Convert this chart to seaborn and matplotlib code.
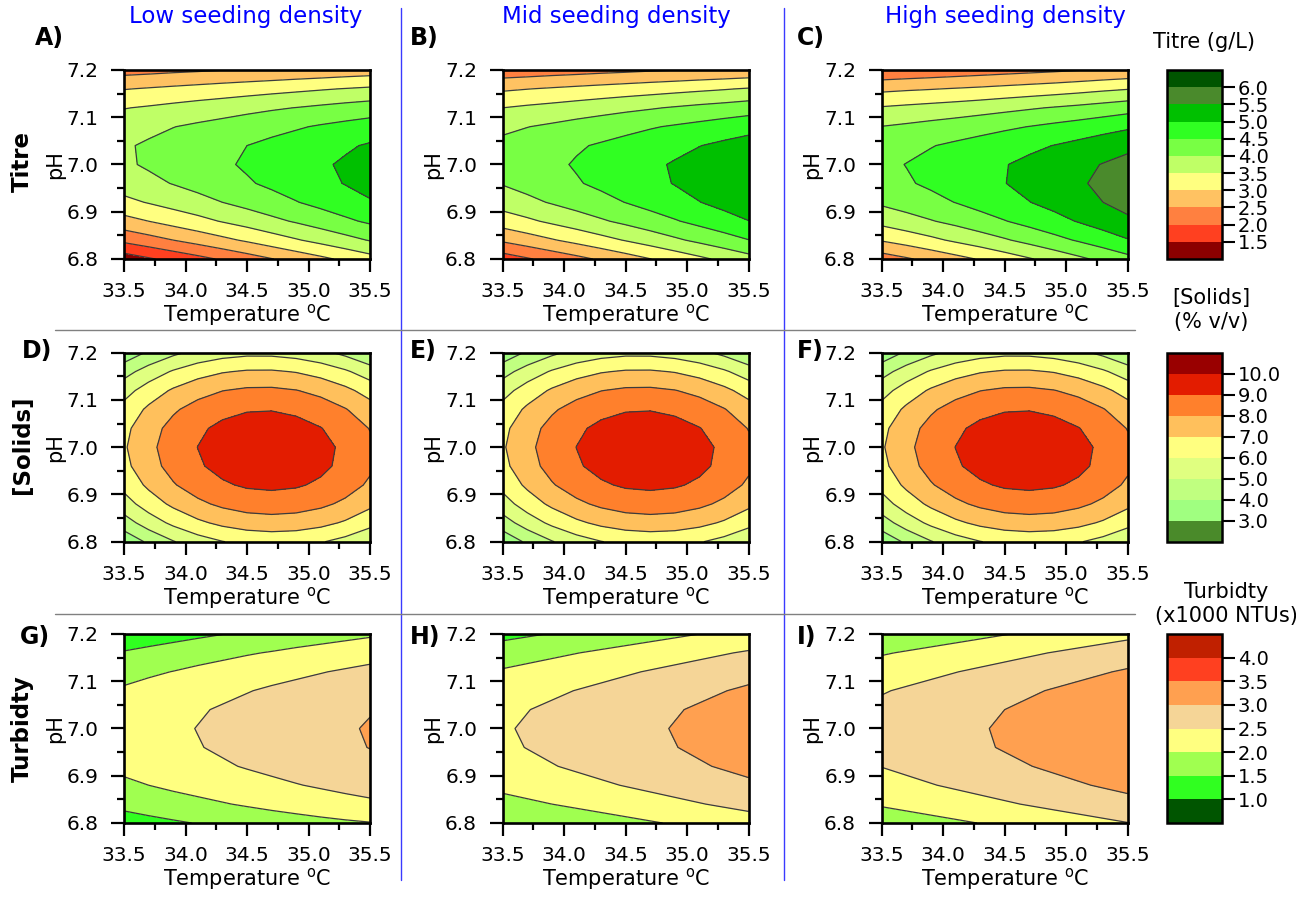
import matplotlib
matplotlib.use("Agg")
import matplotlib.pyplot as plt
from matplotlib.lines import Line2D
from matplotlib.ticker import MultipleLocator, FormatStrFormatter
import seaborn as sns

# ---------------------------------------------------------------------------
# Response-surface grids: rows follow pH (6.80 -> 7.20), columns follow
# temperature (33.5 -> 35.5 degC).
# ---------------------------------------------------------------------------
temperature = [33.5, 33.7, 33.9, 34.1, 34.3, 34.5, 34.7, 34.9, 35.1, 35.3, 35.5]
ph = [6.80, 6.84, 6.88, 6.92, 6.96, 7.00, 7.04, 7.08, 7.12, 7.16, 7.20]

# Titre (g/L)
titre_low = [
    [1.23, 1.44, 1.65, 1.85, 2.06, 2.27, 2.48, 2.69, 2.89, 3.10, 3.31],
    [2.12, 2.31, 2.50, 2.69, 2.88, 3.07, 3.27, 3.46, 3.65, 3.84, 4.03],
    [2.83, 3.00, 3.18, 3.35, 3.53, 3.70, 3.88, 4.05, 4.23, 4.41, 4.58],
    [3.37, 3.53, 3.69, 3.84, 4.00, 4.16, 4.32, 4.48, 4.64, 4.80, 4.96],
    [3.74, 3.88, 4.02, 4.16, 4.31, 4.45, 4.59, 4.73, 4.87, 5.02, 5.16],
    [3.93, 4.06, 4.18, 4.31, 4.43, 4.56, 4.69, 4.81, 4.94, 5.06, 5.19],
    [3.95, 4.06, 4.17, 4.28, 4.39, 4.50, 4.61, 4.72, 4.83, 4.94, 5.05],
    [3.80, 3.89, 3.99, 4.08, 4.17, 4.27, 4.36, 4.45, 4.55, 4.64, 4.73],
    [3.48, 3.55, 3.63, 3.71, 3.78, 3.86, 3.94, 4.01, 4.09, 4.17, 4.24],
    [2.98, 3.04, 3.10, 3.16, 3.22, 3.28, 3.34, 3.40, 3.46, 3.52, 3.58],
    [2.31, 2.35, 2.40, 2.44, 2.49, 2.53, 2.57, 2.62, 2.66, 2.71, 2.75],
]
titre_mid = [
    [1.74, 1.95, 2.16, 2.36, 2.57, 2.78, 2.99, 3.19, 3.40, 3.61, 3.82],
    [2.58, 2.77, 2.96, 3.15, 3.34, 3.53, 3.72, 3.92, 4.11, 4.30, 4.49],
    [3.24, 3.41, 3.59, 3.76, 3.94, 4.11, 4.29, 4.46, 4.64, 4.81, 4.99],
    [3.72, 3.88, 4.04, 4.20, 4.35, 4.51, 4.67, 4.83, 4.99, 5.15, 5.31],
    [4.03, 4.17, 4.31, 4.46, 4.60, 4.74, 4.88, 5.02, 5.17, 5.31, 5.45],
    [4.16, 4.29, 4.41, 4.54, 4.66, 4.79, 4.92, 5.04, 5.17, 5.29, 5.42],
    [4.12, 4.23, 4.34, 4.45, 4.55, 4.66, 4.77, 4.88, 4.99, 5.10, 5.21],
    [3.90, 3.99, 4.08, 4.18, 4.27, 4.36, 4.46, 4.55, 4.64, 4.74, 4.83],
    [3.50, 3.58, 3.65, 3.73, 3.81, 3.89, 3.96, 4.04, 4.12, 4.19, 4.27],
    [2.93, 2.99, 3.05, 3.11, 3.17, 3.23, 3.29, 3.35, 3.41, 3.47, 3.54],
    [2.18, 2.22, 2.27, 2.31, 2.36, 2.40, 2.45, 2.49, 2.54, 2.58, 2.62],
]
titre_high = [
    [2.25, 2.44, 2.64, 2.84, 3.04, 3.25, 3.46, 3.68, 3.90, 4.12, 4.35],
    [3.04, 3.21, 3.39, 3.58, 3.76, 3.95, 4.15, 4.35, 4.55, 4.76, 4.97],
    [3.65, 3.81, 3.97, 4.13, 4.31, 4.48, 4.66, 4.84, 5.03, 5.22, 5.41],
    [4.08, 4.22, 4.36, 4.51, 4.67, 4.83, 4.99, 5.15, 5.32, 5.50, 5.67],
    [4.33, 4.45, 4.58, 4.71, 4.85, 4.99, 5.14, 5.29, 5.44, 5.60, 5.76],
    [4.40, 4.51, 4.62, 4.74, 4.86, 4.98, 5.11, 5.24, 5.38, 5.52, 5.66],
    [4.29, 4.38, 4.48, 4.58, 4.68, 4.79, 4.90, 5.01, 5.13, 5.26, 5.38],
    [4.01, 4.08, 4.16, 4.24, 4.33, 4.42, 4.51, 4.61, 4.71, 4.82, 4.93],
    [3.54, 3.60, 3.66, 3.72, 3.79, 3.87, 3.95, 4.03, 4.11, 4.20, 4.30],
    [2.89, 2.94, 2.98, 3.03, 3.08, 3.14, 3.20, 3.26, 3.33, 3.41, 3.48],
    [2.07, 2.12, 2.17, 2.22, 2.27, 2.32, 2.37, 2.42, 2.48, 2.54, 2.60],
]

# Solids (% v/v) - same surface at all three seeding densities
solids_pct = [
    [3.25, 4.18, 4.94, 5.54, 5.97, 6.24, 6.35, 6.29, 6.07, 5.68, 5.13],
    [4.55, 5.47, 6.22, 6.81, 7.23, 7.49, 7.58, 7.51, 7.28, 6.88, 6.32],
    [5.57, 6.47, 7.21, 7.79, 8.20, 8.45, 8.53, 8.45, 8.21, 7.80, 7.23],
    [6.30, 7.19, 7.92, 8.48, 8.88, 9.12, 9.19, 9.10, 8.85, 8.43, 7.84],
    [6.74, 7.62, 8.34, 8.89, 9.28, 9.50, 9.57, 9.46, 9.20, 8.76, 8.17],
    [6.89, 7.76, 8.47, 9.01, 9.39, 9.60, 9.65, 9.54, 9.26, 8.82, 8.21],
    [6.75, 7.61, 8.31, 8.84, 9.21, 9.41, 9.45, 9.32, 9.03, 8.58, 7.96],
    [6.33, 7.18, 7.86, 8.38, 8.74, 8.93, 8.96, 8.82, 8.52, 8.05, 7.43],
    [5.62, 6.45, 7.13, 7.64, 7.98, 8.16, 8.18, 8.03, 7.72, 7.24, 6.60],
    [4.62, 5.44, 6.10, 6.60, 6.93, 7.10, 7.11, 6.95, 6.63, 6.14, 5.49],
    [3.33, 4.14, 4.79, 5.28, 5.60, 5.76, 5.75, 5.58, 5.25, 4.75, 4.09],
]

# Turbidity (x1000 NTUs)
turbidity_low = [
    [1.27, 1.36, 1.44, 1.52, 1.60, 1.67, 1.74, 1.81, 1.87, 1.93, 1.98],
    [1.63, 1.72, 1.81, 1.89, 1.97, 2.05, 2.13, 2.20, 2.28, 2.35, 2.41],
    [1.91, 2.00, 2.09, 2.17, 2.25, 2.33, 2.41, 2.48, 2.55, 2.62, 2.69],
    [2.11, 2.20, 2.28, 2.37, 2.45, 2.53, 2.60, 2.68, 2.75, 2.82, 2.89],
    [2.22, 2.31, 2.40, 2.48, 2.56, 2.64, 2.72, 2.79, 2.86, 2.93, 3.01],
    [2.25, 2.34, 2.43, 2.51, 2.59, 2.67, 2.75, 2.82, 2.89, 2.96, 3.03],
    [2.20, 2.29, 2.37, 2.46, 2.54, 2.62, 2.69, 2.77, 2.84, 2.91, 2.98],
    [2.06, 2.15, 2.23, 2.32, 2.40, 2.48, 2.56, 2.63, 2.70, 2.77, 2.84],
    [1.84, 1.93, 2.01, 2.10, 2.18, 2.26, 2.34, 2.41, 2.48, 2.55, 2.62],
    [1.54, 1.63, 1.71, 1.80, 1.88, 1.96, 2.03, 2.11, 2.18, 2.25, 2.32],
    [1.15, 1.24, 1.33, 1.41, 1.49, 1.57, 1.65, 1.72, 1.79, 1.86, 1.93],
]
turbidity_mid = [
    [1.52, 1.56, 1.64, 1.72, 1.80, 1.88, 1.96, 2.04, 2.12, 2.20, 2.28],
    [1.84, 1.92, 2.00, 2.08, 2.16, 2.24, 2.32, 2.40, 2.48, 2.56, 2.64],
    [2.12, 2.20, 2.28, 2.36, 2.44, 2.52, 2.60, 2.68, 2.76, 2.84, 2.92],
    [2.32, 2.40, 2.48, 2.56, 2.64, 2.72, 2.80, 2.88, 2.96, 3.04, 3.12],
    [2.43, 2.51, 2.59, 2.67, 2.75, 2.83, 2.91, 2.99, 3.07, 3.15, 3.23],
    [2.46, 2.54, 2.62, 2.70, 2.78, 2.86, 2.94, 3.02, 3.10, 3.18, 3.26],
    [2.41, 2.49, 2.57, 2.65, 2.73, 2.81, 2.89, 2.97, 3.05, 3.13, 3.21],
    [2.27, 2.35, 2.43, 2.51, 2.59, 2.67, 2.75, 2.83, 2.91, 2.99, 3.07],
    [2.05, 2.13, 2.21, 2.29, 2.37, 2.45, 2.53, 2.61, 2.69, 2.77, 2.85],
    [1.75, 1.83, 1.91, 1.99, 2.07, 2.15, 2.23, 2.31, 2.39, 2.47, 2.55],
    [1.36, 1.44, 1.52, 1.60, 1.68, 1.76, 1.84, 1.92, 2.00, 2.08, 2.16],
]
turbidity_high = [
    [1.69, 1.77, 1.85, 1.93, 2.01, 2.09, 2.17, 2.25, 2.33, 2.41, 2.49],
    [2.05, 2.13, 2.21, 2.29, 2.37, 2.45, 2.53, 2.61, 2.69, 2.77, 2.85],
    [2.32, 2.40, 2.48, 2.56, 2.64, 2.72, 2.80, 2.88, 2.96, 3.04, 3.12],
    [2.51, 2.59, 2.67, 2.75, 2.83, 2.91, 2.99, 3.07, 3.15, 3.23, 3.31],
    [2.63, 2.71, 2.79, 2.87, 2.95, 3.03, 3.11, 3.19, 3.27, 3.35, 3.43],
    [2.65, 2.73, 2.81, 2.89, 2.97, 3.05, 3.13, 3.21, 3.29, 3.37, 3.45],
    [2.60, 2.68, 2.76, 2.84, 2.92, 3.00, 3.08, 3.16, 3.24, 3.32, 3.40],
    [2.47, 2.55, 2.63, 2.71, 2.79, 2.87, 2.95, 3.03, 3.11, 3.19, 3.27],
    [2.25, 2.33, 2.41, 2.49, 2.57, 2.65, 2.73, 2.81, 2.89, 2.97, 3.05],
    [1.96, 2.04, 2.12, 2.20, 2.28, 2.36, 2.44, 2.52, 2.60, 2.68, 2.76],
    [1.58, 1.66, 1.74, 1.82, 1.90, 1.98, 2.06, 2.14, 2.22, 2.30, 2.38],
]

# Contour levels and band colours (first = below range, last = above range)
titre_levels = [1.5, 2.0, 2.5, 3.0, 3.5, 4.0, 4.5, 5.0, 5.5, 6.0]
titre_colors = ["#8b0000", "#ff4020", "#ff8040", "#ffc262", "#ffff80",
                "#bfff66", "#78ff44", "#30ff22", "#00c000", "#4a8a2c", "#005500"]
solids_levels = [3, 4, 5, 6, 7, 8, 9, 10]
solids_colors = ["#4a8a2a", "#a0ff80", "#c0ff80", "#e0ff80", "#ffff80",
                 "#ffc05c", "#ff802c", "#e31c00", "#990000"]
turbidity_levels = [1.0, 1.5, 2.0, 2.5, 3.0, 3.5, 4.0]
turbidity_colors = ["#005500", "#30ff20", "#a0ff50", "#ffff80", "#f5d597",
                    "#ffa050", "#ff4020", "#c02000"]

column_titles = ["Low seeding density", "Mid seeding density", "High seeding density"]
row_titles = ["Titre", "[Solids]", "Turbidty"]
panel_letters = [["A)", "B)", "C)"], ["D)", "E)", "F)"], ["G)", "H)", "I)"]]
colorbar_titles = ["Titre (g/L)", "[Solids]\n(% v/v)", "Turbidty\n(x1000 NTUs)"]

grids = [
    [titre_low, titre_mid, titre_high],
    [solids_pct, solids_pct, solids_pct],
    [turbidity_low, turbidity_mid, turbidity_high],
]
level_sets = [titre_levels, solids_levels, turbidity_levels]
color_sets = [titre_colors, solids_colors, turbidity_colors]

# ---------------------------------------------------------------------------
sns.set_theme(style="ticks")
plt.rcParams.update({
    "font.family": ["DejaVu Sans"],
    "mathtext.fontset": "dejavusans",
    "text.color": "black",
    "axes.labelcolor": "black",
    "axes.edgecolor": "black",
    "xtick.color": "black",
    "ytick.color": "black",
    "axes.facecolor": "white",
    "figure.facecolor": "white",
})

W, H = 1296, 901
fig = plt.figure(figsize=(W / 100, H / 100), dpi=100)


def box(x0, y0, w, h):
    """Pixel box (top-left origin) -> figure fraction rectangle."""
    return [x0 / W, 1 - (y0 + h) / H, w / W, h / H]


def ftext(x, y, s, **kw):
    fig.text(x / W, 1 - y / H, s, **kw)


col_x = [124, 502.7, 881.7]
row_y = [70, 352.7, 634]
AX_W, AX_H = 246, 189

for r in range(3):
    levels = level_sets[r]
    colors = color_sets[r]
    cs = None
    for c in range(3):
        ax = fig.add_axes(box(col_x[c], row_y[r], AX_W, AX_H))
        z = grids[r][c]
        cs = ax.contourf(temperature, ph, z, levels=levels, colors=colors,
                         extend="both")
        ax.contour(temperature, ph, z, levels=levels, colors="#3c3c3c",
                   linewidths=0.9)
        ax.set_xlim(33.5, 35.5)
        ax.set_ylim(6.8, 7.2)
        ax.xaxis.set_major_locator(MultipleLocator(0.5))
        ax.xaxis.set_minor_locator(MultipleLocator(0.25))
        ax.yaxis.set_major_locator(MultipleLocator(0.1))
        ax.yaxis.set_minor_locator(MultipleLocator(0.05))
        ax.xaxis.set_major_formatter(FormatStrFormatter("%.1f"))
        ax.yaxis.set_major_formatter(FormatStrFormatter("%.1f"))
        ax.tick_params(which="major", direction="out", length=9.5, width=1.6,
                       labelsize=14.5)
        ax.tick_params(axis="x", which="major", pad=7)
        ax.tick_params(axis="y", which="major", pad=9)
        ax.tick_params(which="minor", direction="out", length=5, width=1.6)
        for s in ax.spines.values():
            s.set_linewidth(1.9)
            s.set_color("black")
        ax.set_xlabel("Temperature $^{\\mathrm{o}}$C", fontsize=15, labelpad=1)
        ax.set_ylabel("pH", fontsize=15, labelpad=1)

    # colour bar for the row
    cax = fig.add_axes(box(1167, row_y[r], 55, AX_H))
    cb = fig.colorbar(cs, cax=cax, ticks=levels, extendrect=True,
                      extendfrac="auto", drawedges=False)
    cb.ax.yaxis.set_major_formatter(FormatStrFormatter("%.1f"))
    cb.ax.minorticks_off()
    cb.outline.set_linewidth(1.8)
    cb.ax.tick_params(which="major", direction="out", length=9.5, width=1.5,
                      labelsize=14, pad=2)

# column headings
for c, (xc, title) in enumerate(zip([246, 616, 1005], column_titles)):
    ftext(xc, 16, title, color="#0000ff", fontsize=16.5, ha="center", va="center")

# panel letters
letter_pos = [[(35, 38), (410, 38), (797, 38)],
              [(22, 351), (410, 351), (797, 351)],
              [(20, 637), (410, 637), (797, 637)]]
for r in range(3):
    for c in range(3):
        x, y = letter_pos[r][c]
        ftext(x, y, panel_letters[r][c], fontsize=17, fontweight="bold",
              ha="left", va="center")

# row headings
for yc, title in zip([162, 445, 729], row_titles):
    ftext(22, yc, title, fontsize=16.5, fontweight="bold", rotation=90,
          ha="center", va="center")

# colour-bar headings
ftext(1204, 42, colorbar_titles[0], fontsize=15, ha="center", va="center")
ftext(1211, 310, colorbar_titles[1], fontsize=15, ha="center", va="center",
      linespacing=1.3)
ftext(1226, 604, colorbar_titles[2], fontsize=15, ha="center", va="center",
      linespacing=1.3)

# separators between the columns and rows
for xv in [401, 784]:
    fig.add_artist(Line2D([xv / W, xv / W], [1 - 8 / H, 1 - 880 / H],
                          color="#3a3aff", lw=1.0, transform=fig.transFigure))
for yh in [330, 614]:
    fig.add_artist(Line2D([55 / W, 1135 / W], [1 - yh / H, 1 - yh / H],
                          color="#808080", lw=1.0, transform=fig.transFigure))

fig.savefig("out.png", dpi=100)
